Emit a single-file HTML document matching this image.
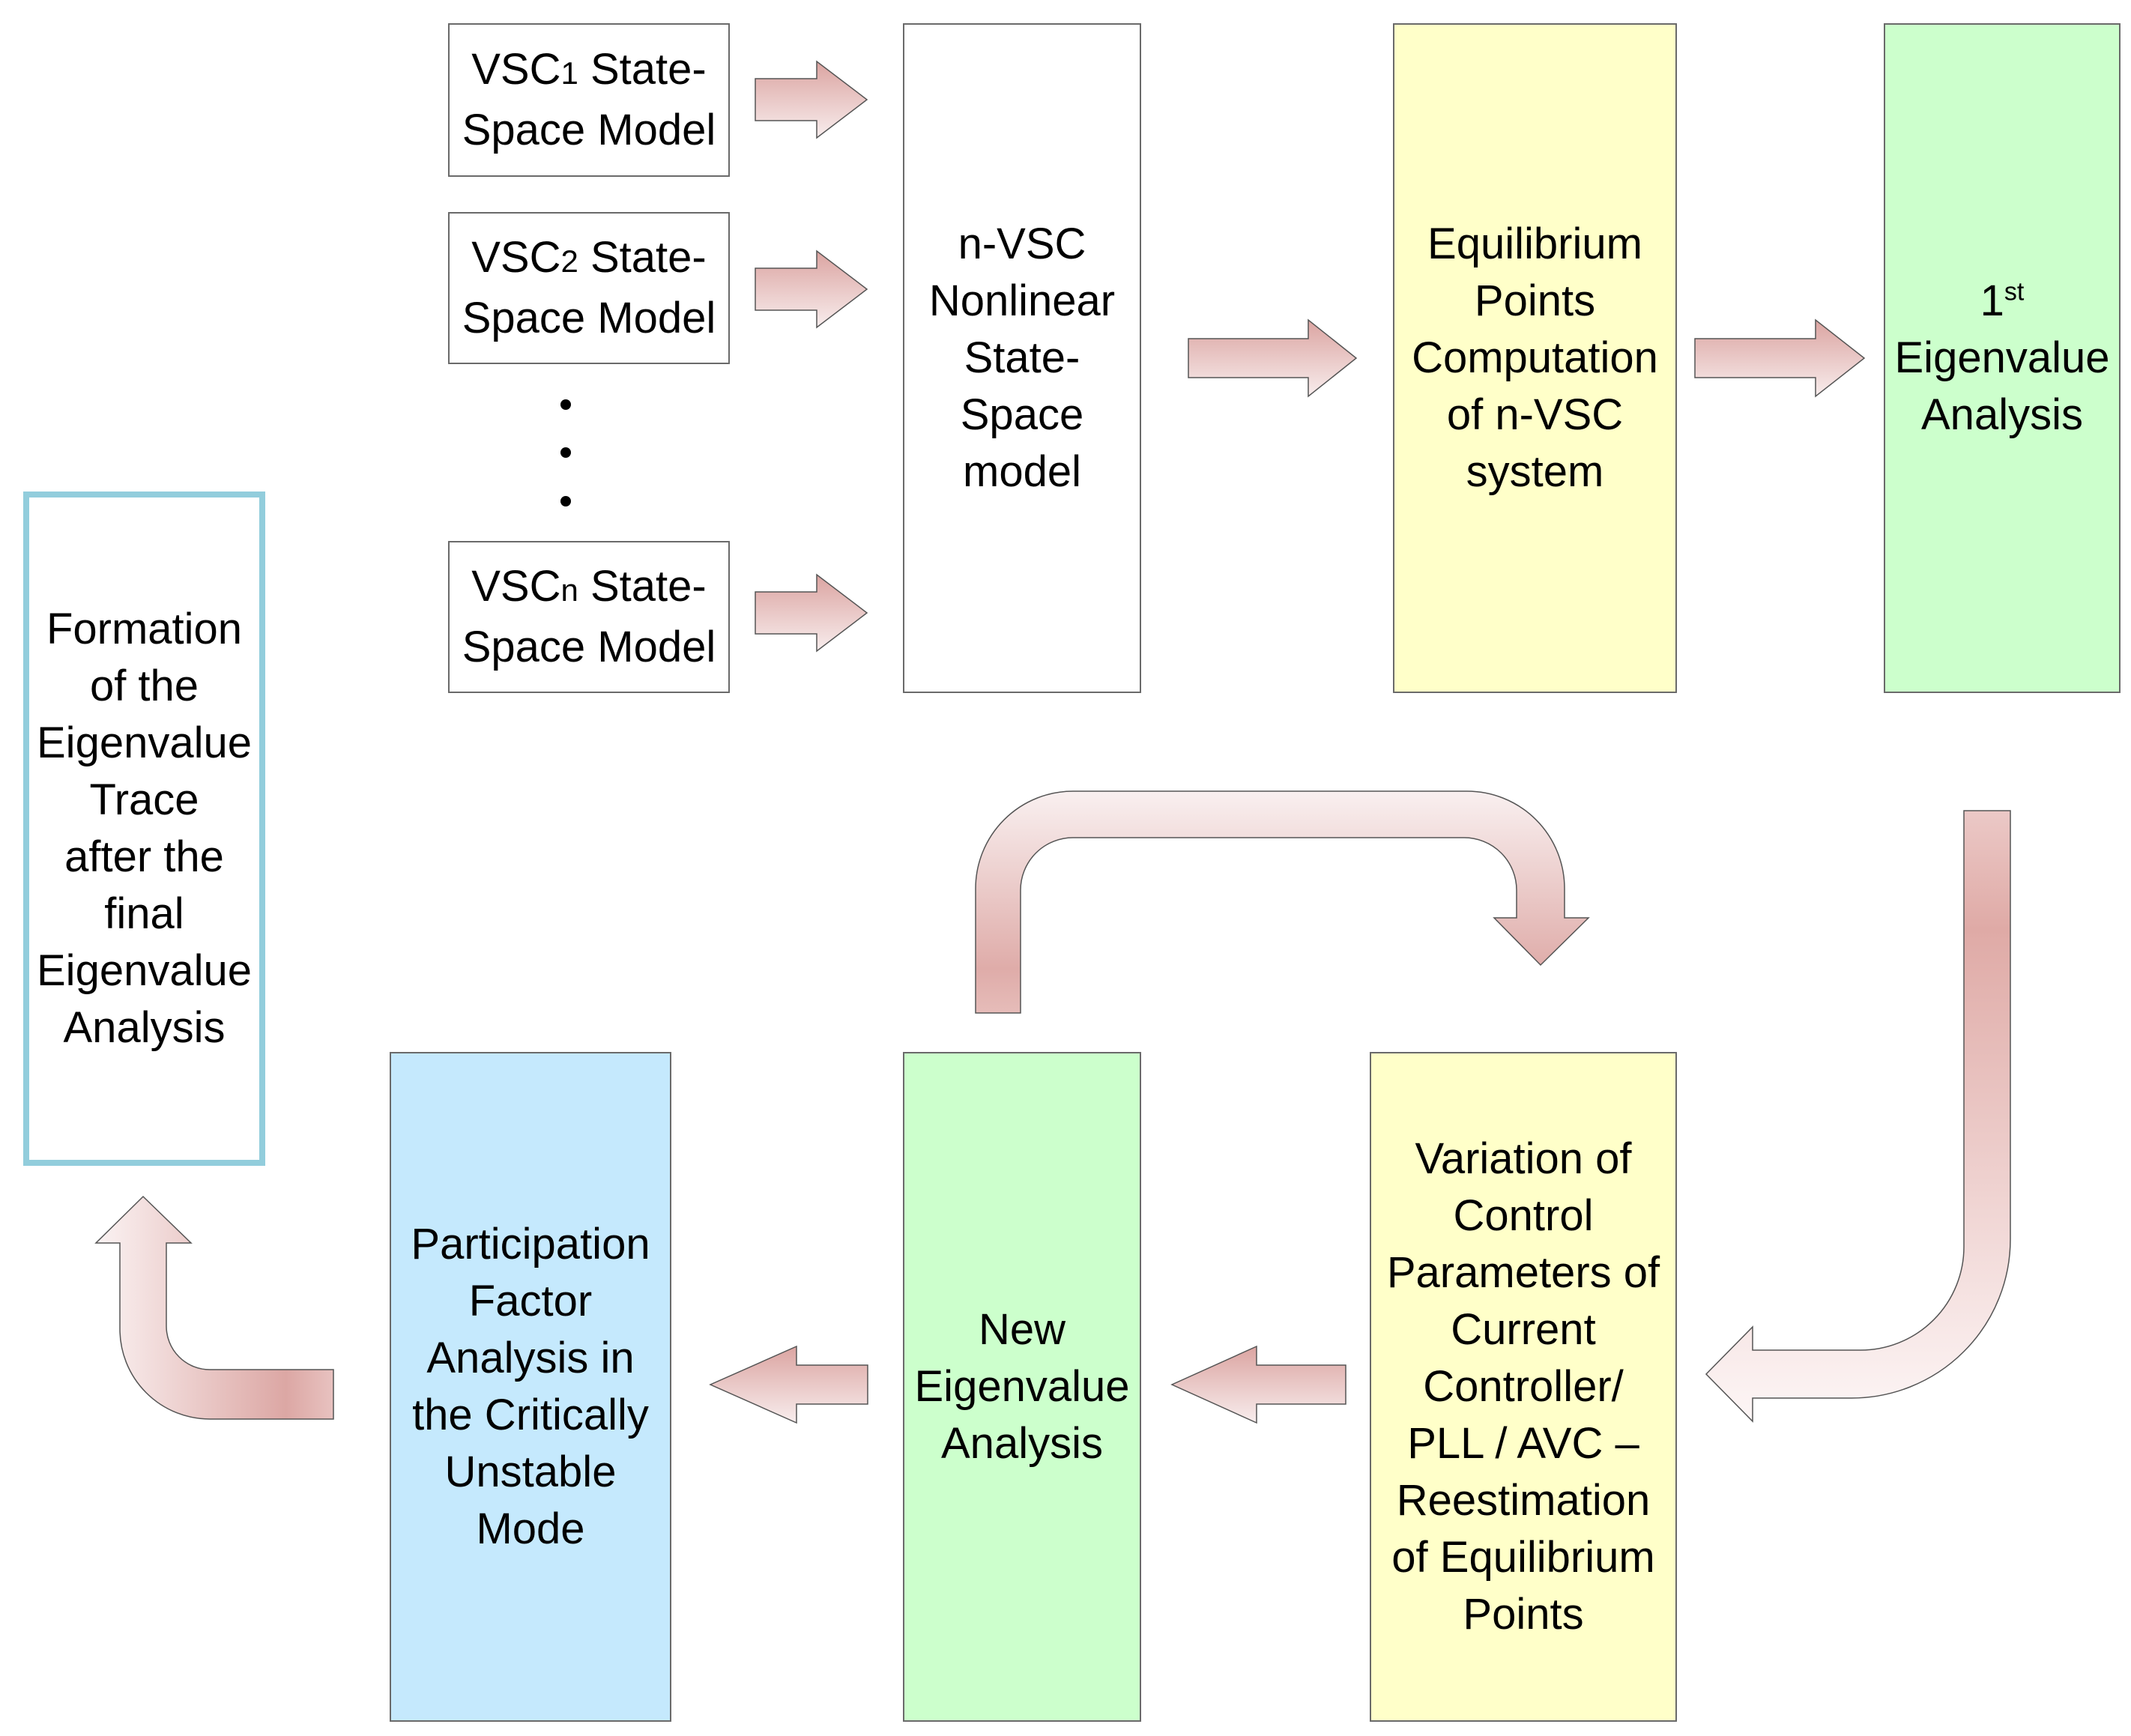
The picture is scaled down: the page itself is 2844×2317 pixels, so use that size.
<!DOCTYPE html>
<html><head><meta charset="utf-8"><style>
html,body{margin:0;padding:0;background:#fff}
#c{position:relative;width:2844px;height:2317px;overflow:hidden;font-family:"Liberation Sans",sans-serif;}
.b{position:absolute;box-sizing:border-box;border:2px solid #6a6a6a;display:flex;align-items:center;justify-content:center;text-align:center;font-size:58px;line-height:76px;color:#000}
.b>div{white-space:nowrap}
.s{font-size:42px}
svg{position:absolute;left:0;top:0}
</style></head><body><div id="c">
<svg width="2844" height="2317" viewBox="0 0 2844 2317">
<defs>
<linearGradient id="gh" x1="0" y1="0" x2="0" y2="1"><stop offset="0" stop-color="#dba4a1"/><stop offset="1" stop-color="#f8eded"/></linearGradient>
<linearGradient id="gt" gradientUnits="userSpaceOnUse" x1="0" y1="1056" x2="0" y2="1352"><stop offset="0" stop-color="#f9f0f0"/><stop offset="0.8" stop-color="#dfaca9"/><stop offset="1" stop-color="#e6bcb9"/></linearGradient>
<linearGradient id="gr" gradientUnits="userSpaceOnUse" x1="0" y1="1076" x2="0" y2="1897"><stop offset="0" stop-color="#eccac8"/><stop offset="0.2" stop-color="#dfaaa6"/><stop offset="1" stop-color="#fdf6f6"/></linearGradient>
<linearGradient id="gl" gradientUnits="userSpaceOnUse" x1="128" y1="0" x2="445" y2="0"><stop offset="0" stop-color="#fbf3f3"/><stop offset="0.8" stop-color="#dca7a4"/><stop offset="1" stop-color="#e8c2c0"/></linearGradient>
</defs>
<g stroke="#555" stroke-width="1.5" fill="url(#gh)">
<path d="M1008,105 L1090,105 L1090,82 L1157,133 L1090,184 L1090,161 L1008,161 Z"/>
<path d="M1008,358 L1090,358 L1090,335 L1157,386 L1090,437 L1090,414 L1008,414 Z"/>
<path d="M1008,790 L1090,790 L1090,767 L1157,818 L1090,869 L1090,846 L1008,846 Z"/>
<path d="M1586,452 L1746,452 L1746,427 L1810,478 L1746,529 L1746,504 L1586,504 Z"/>
<path d="M2262,452 L2423,452 L2423,427 L2488,478 L2423,529 L2423,504 L2262,504 Z"/>
<path d="M1796,1822 L1677,1822 L1677,1797 L1564,1848 L1677,1899 L1677,1874 L1796,1874 Z"/>
<path d="M1158,1822 L1063,1822 L1063,1797 L948,1848 L1063,1899 L1063,1874 L1158,1874 Z"/>
<path fill="url(#gt)" d="M1302,1352 L1302,1186 A130,130 0 0 1 1432,1056 L1958,1056 A130,130 0 0 1 2088,1186 L2088,1225 L2120,1225 L2056,1288 L1994,1225 L2024,1225 L2024,1188 A70,70 0 0 0 1954,1118 L1432,1118 A70,70 0 0 0 1362,1188 L1362,1352 Z"/>
<path fill="url(#gr)" d="M2621,1082 L2683,1082 L2683,1654 A212,212 0 0 1 2471,1866 L2339,1866 L2339,1897 L2277,1834 L2339,1771 L2339,1802 L2483,1802 A138,138 0 0 0 2621,1664 Z"/>
<path fill="url(#gl)" d="M445,1828 L445,1894 L280,1894 A120,120 0 0 1 160,1774 L160,1659 L128,1659 L191,1597 L255,1659 L222,1659 L222,1770 A58,58 0 0 0 280,1828 Z"/>
</g>
<circle cx="755" cy="540" r="7" fill="#000"/><circle cx="755" cy="604" r="7" fill="#000"/><circle cx="755" cy="669" r="7" fill="#000"/>
</svg>
<div class="b" style="left:598px;top:31px;width:376px;height:205px"><div>VSC<span class="s">1</span> State-<br>Space Model</div></div>
<div class="b" style="left:598px;top:283px;width:376px;height:203px"><div>VSC<span class="s">2</span> State-<br>Space Model</div></div>
<div class="b" style="left:598px;top:722px;width:376px;height:203px"><div>VSC<span class="s">n</span> State-<br>Space Model</div></div>
<div class="b" style="left:1205px;top:31px;width:318px;height:894px"><div>n-VSC<br>Nonlinear<br>State-<br>Space<br>model</div></div>
<div class="b" style="left:1859px;top:31px;width:379px;height:894px;background:#ffffc9"><div>Equilibrium<br>Points<br>Computation<br>of n-VSC<br>system</div></div>
<div class="b" style="left:2514px;top:31px;width:316px;height:894px;background:#ccffcc"><div>1<sup style="font-size:34px;line-height:0">st</sup><br>Eigenvalue<br>Analysis</div></div>
<div class="b" style="left:31px;top:656px;width:323px;height:900px;border:8px solid #92cddc"><div>Formation<br>of the<br>Eigenvalue<br>Trace<br>after the<br>final<br>Eigenvalue<br>Analysis</div></div>
<div class="b" style="left:520px;top:1404px;width:376px;height:894px;background:#c5e9fd"><div>Participation<br>Factor<br>Analysis in<br>the Critically<br>Unstable<br>Mode</div></div>
<div class="b" style="left:1205px;top:1404px;width:318px;height:894px;background:#ccffcc"><div>New<br>Eigenvalue<br>Analysis</div></div>
<div class="b" style="left:1828px;top:1404px;width:410px;height:894px;background:#ffffc9"><div>Variation of<br>Control<br>Parameters of<br>Current<br>Controller/<br>PLL / AVC –<br>Reestimation<br>of Equilibrium<br>Points</div></div>
</div></body></html>
